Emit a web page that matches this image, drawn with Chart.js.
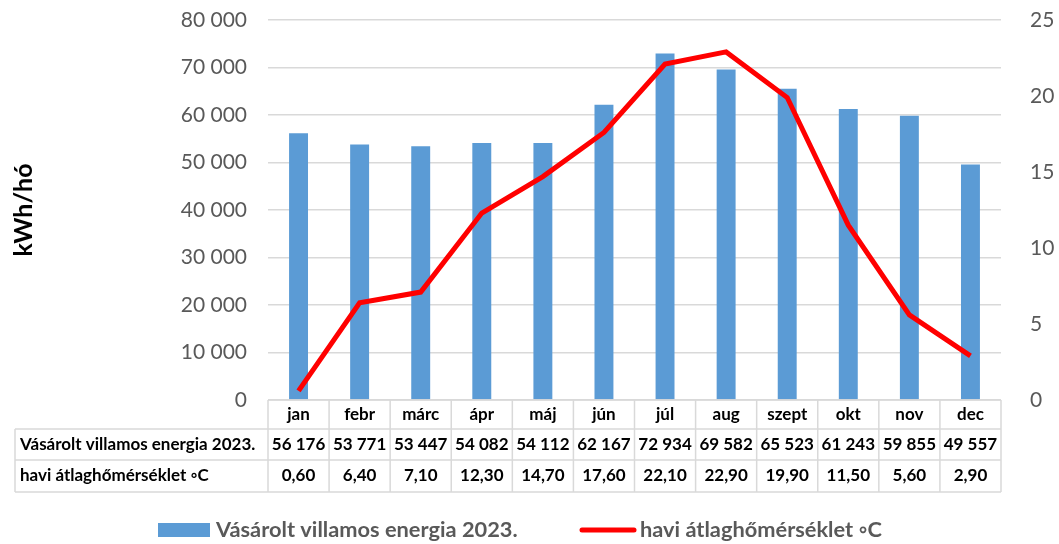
<!DOCTYPE html>
<html>
<head>
<meta charset="utf-8">
<script src="https://cdn.jsdelivr.net/npm/chart.js@4/dist/chart.umd.min.js"></script>
<style>
  html, body { margin: 0; padding: 0; background: #fff; }
  canvas { display: block; }
</style>
</head>
<body>
<canvas id="chart" width="1059" height="544"></canvas>
<script>
// Chart data
const months = ['jan', 'febr', 'márc', 'ápr', 'máj', 'jún', 'júl', 'aug', 'szept', 'okt', 'nov', 'dec'];
const energy = [56176, 53771, 53447, 54082, 54112, 62167, 72934, 69582, 65523, 61243, 59855, 49557];
const temperature = [0.6, 6.4, 7.1, 12.3, 14.7, 17.6, 22.1, 22.9, 19.9, 11.5, 5.6, 2.9];
const energyLabel = 'Vásárolt villamos energia 2023.';
const tempLabel = 'havi átlaghőmérséklet ◦C';
const yTitle = 'kWh/hó';

const FONT = 'Lato, "Open Sans", sans-serif';
const GRAY = '#595959';
const BLUE = '#5B9BD5';
const RED = '#FF0000';
const BORDER = '#D9D9D9';

// Format 56176 -> "56 176"
function formatThousands(v) {
    return String(Math.round(v)).replace(/\B(?=(\d{3})+(?!\d))/g, ' ');
}

// Format 0.6 -> "0,60"
function formatTemp(v) {
    return v.toFixed(2).replace('.', ',');
}

// Fix the width of a vertical axis and drop its label padding
function fixAxis(width) {
    return scale => {
        scale.width = width;
        scale.paddingTop = 0;
        scale.paddingBottom = 0;
    };
}

// Draws data table, axis title and legend below the plot
const extrasPlugin = {
    id: 'extras',
    afterDraw(chart) {
        const ctx = chart.ctx;
        const area = chart.chartArea;
        const x = chart.scales.x;
        const colW = (area.right - area.left) / months.length;
        const rows = [area.bottom, area.bottom + 29, area.bottom + 60, area.bottom + 92];
        const labelLeft = 15;

        ctx.save();
        ctx.strokeStyle = BORDER;
        ctx.lineWidth = 1.5;

        // horizontal borders
        ctx.beginPath();
        ctx.moveTo(area.left, rows[0]);
        ctx.lineTo(area.right, rows[0]);
        for (let r = 1; r < rows.length; r++) {
            ctx.moveTo(labelLeft, rows[r]);
            ctx.lineTo(area.right, rows[r]);
        }
        // vertical borders
        ctx.moveTo(labelLeft, rows[1]);
        ctx.lineTo(labelLeft, rows[3]);
        for (let i = 0; i <= months.length; i++) {
            const cx = area.left + i * colW;
            ctx.moveTo(cx, rows[0]);
            ctx.lineTo(cx, rows[3]);
        }
        ctx.stroke();

        // cell text
        ctx.fillStyle = '#000';
        ctx.font = 'bold 17px ' + FONT;
        ctx.textBaseline = 'middle';
        ctx.textAlign = 'center';
        months.forEach((m, i) => {
            const cx = x.getPixelForValue(i);
            ctx.fillText(m, cx, (rows[0] + rows[1]) / 2);
            ctx.fillText(formatThousands(energy[i]), cx, (rows[1] + rows[2]) / 2);
            ctx.fillText(formatTemp(temperature[i]), cx, (rows[2] + rows[3]) / 2);
        });
        ctx.textAlign = 'left';
        ctx.fillText(energyLabel, labelLeft + 5, (rows[1] + rows[2]) / 2);
        ctx.fillText(tempLabel, labelLeft + 5, (rows[2] + rows[3]) / 2);

        // y axis title
        ctx.save();
        ctx.translate(32, 210);
        ctx.rotate(-Math.PI / 2);
        ctx.textAlign = 'center';
        ctx.textBaseline = 'alphabetic';
        ctx.font = 'bold 25px ' + FONT;
        ctx.fillText(yTitle, 0, 0);
        ctx.restore();

        // legend
        const ly = 530;
        ctx.fillStyle = BLUE;
        ctx.fillRect(158, ly - 7, 52, 14);
        ctx.strokeStyle = RED;
        ctx.lineWidth = 5;
        ctx.lineCap = 'round';
        ctx.beginPath();
        ctx.moveTo(582, ly);
        ctx.lineTo(634, ly);
        ctx.stroke();
        ctx.fillStyle = GRAY;
        ctx.font = 'bold 21.8px ' + FONT;
        ctx.textAlign = 'left';
        ctx.fillText(energyLabel, 216, ly);
        ctx.fillText(tempLabel, 640, ly);
        ctx.restore();
    }
};

function init() {
    const ctx = document.getElementById('chart').getContext('2d');
    new Chart(ctx, {
        type: 'bar',
        data: {
            labels: months,
            datasets: [
                {
                    type: 'line',
                    label: tempLabel,
                    data: temperature,
                    yAxisID: 'y1',
                    borderColor: RED,
                    backgroundColor: RED,
                    borderWidth: 5,
                    pointRadius: 0,
                    tension: 0,
                    fill: false,
                    order: 1
                },
                {
                    label: energyLabel,
                    data: energy,
                    yAxisID: 'y',
                    backgroundColor: BLUE,
                    barPercentage: 0.31,
                    categoryPercentage: 1,
                    order: 2
                }
            ]
        },
        options: {
            responsive: false,
            animation: false,
            devicePixelRatio: 1,
            layout: { padding: { top: 20, bottom: 144, left: 0, right: 0 } },
            plugins: {
                legend: { display: false },
                tooltip: { enabled: false }
            },
            scales: {
                x: { display: false },
                y: {
                    position: 'left',
                    min: 0,
                    max: 80000,
                    afterFit: fixAxis(268),
                    border: { display: false },
                    grid: { color: BORDER, lineWidth: 1.5, drawTicks: false },
                    ticks: {
                        stepSize: 10000,
                        padding: 21,
                        color: GRAY,
                        font: { family: FONT, size: 21 },
                        callback: v => formatThousands(v)
                    }
                },
                y1: {
                    position: 'right',
                    min: 0,
                    max: 25,
                    afterFit: fixAxis(58),
                    border: { display: false },
                    grid: { display: false, drawTicks: false },
                    ticks: {
                        stepSize: 5,
                        padding: 29,
                        color: GRAY,
                        font: { family: FONT, size: 21 }
                    }
                }
            }
        },
        plugins: [extrasPlugin]
    });
}

document.addEventListener('DOMContentLoaded', init);
</script>
</body>
</html>
